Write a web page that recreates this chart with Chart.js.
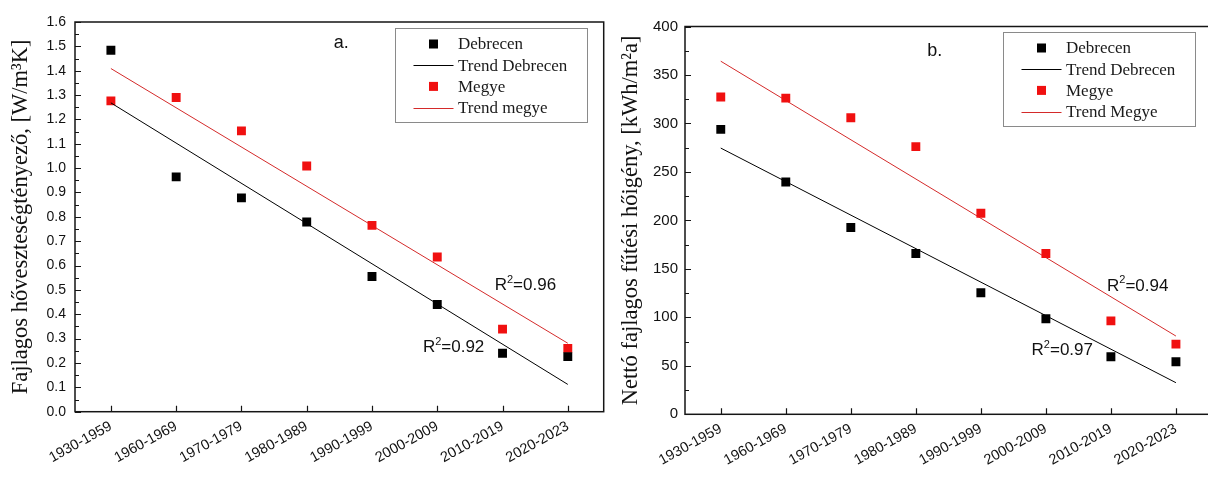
<!DOCTYPE html>
<html>
<head>
<meta charset="utf-8">
<script src="https://cdn.jsdelivr.net/npm/chart.js@4"></script>
<style>
  html, body { margin: 0; padding: 0; background: #fff; }
  body { width: 1208px; height: 480px; overflow: hidden; position: relative; }
  .panel { position: absolute; top: 0; height: 480px; }
  #panelA { left: 0; width: 610px; }
  #panelB { left: 606px; width: 612px; }
</style>
</head>
<body>
<div class="panel" id="panelA"><canvas id="chartA"></canvas></div>
<div class="panel" id="panelB"><canvas id="chartB"></canvas></div>
<script>
// --- data ---
const periods = ['1930-1959', '1960-1969', '1970-1979', '1980-1989', '1990-1999', '2000-2009', '2010-2019', '2020-2023'];

// a. specific heat loss coefficient [W/m3K]
const debrecenLoss = [1.484, 0.964, 0.878, 0.779, 0.555, 0.44, 0.24, 0.226];
const megyeLoss = [1.276, 1.29, 1.153, 1.009, 0.765, 0.635, 0.339, 0.26];
const trendDebrecenLoss = [1.268, 0.112];   // value at first / last period
const trendMegyeLoss = [1.409, 0.281];

// b. net specific heating demand [kWh/m2a]
const debrecenHeat = [293.9, 239.6, 192.6, 165.8, 125.3, 98.5, 59.3, 54.2];
const megyeHeat = [327.2, 326.1, 305.9, 276.1, 207.4, 165.8, 96.4, 72.4];
const trendDebrecenHeat = [274.6, 32.6];
const trendMegyeHeat = [364.2, 80.7];

const SANS = "'Liberation Sans', Arial, sans-serif";
const SERIF = "'Liberation Serif', 'Times New Roman', serif";
const RED = '#f01010';
const RED_LINE = '#d42a2a';

function pts(values) {
  return values.map((v, i) => ({ x: i, y: v }));
}
function trend(ends) {
  return [{ x: 0, y: ends[0] }, { x: periods.length - 1, y: ends[1] }];
}

// box round the plot, inward ticks on left and bottom axes
const framePlugin = {
  id: 'frame',
  afterDatasetsDraw(chart, args, opts) {
    const { ctx, chartArea: a, scales: { x, y } } = chart;
    ctx.save();
    ctx.strokeStyle = '#151515';
    ctx.lineWidth = 1.5;
    ctx.strokeRect(a.left, a.top, a.right - a.left, a.bottom - a.top);
    ctx.lineWidth = 1.2;
    ctx.beginPath();
    const n = Math.round((y.max - y.min) / opts.minorStep);
    for (let k = 0; k <= n; k++) {
      const v = y.min + k * opts.minorStep;
      const py = Math.round(y.getPixelForValue(v)) + 0.5;
      const len = k % 2 === 0 ? 6 : 4;
      ctx.moveTo(a.left, py);
      ctx.lineTo(a.left + len, py);
    }
    x.ticks.forEach(t => {
      const px = Math.round(x.getPixelForValue(t.value)) + 0.5;
      ctx.moveTo(px, a.bottom);
      ctx.lineTo(px, a.bottom - 6);
    });
    ctx.stroke();
    ctx.restore();
  }
};

// legend box in the upper right corner plus the text notes
const notesPlugin = {
  id: 'notes',
  afterDraw(chart, args, opts) {
    const { ctx, chartArea: a, scales: { x, y } } = chart;
    ctx.save();
    // notes
    ctx.fillStyle = '#111';
    ctx.textBaseline = 'middle';
    opts.notes.forEach(n => {
      ctx.font = n.size + 'px ' + SANS;
      ctx.textAlign = n.align || 'left';
      const px = x.getPixelForValue(n.x);
      const py = y.getPixelForValue(n.y);
      if (n.sup) {
        // R with superscript 2
        const w0 = ctx.measureText(n.text).width;
        ctx.fillText(n.text, px, py);
        ctx.font = Math.round(n.size * 0.62) + 'px ' + SANS;
        const w1 = ctx.measureText(n.sup).width;
        ctx.fillText(n.sup, px + w0, py - n.size * 0.32);
        ctx.font = n.size + 'px ' + SANS;
        ctx.fillText(n.rest, px + w0 + w1, py);
      } else {
        ctx.fillText(n.text, px, py);
      }
    });
    // legend
    const bw = 192, bh = 94;
    const bx = Math.round(a.right - 17 - bw) + 0.5;
    const by = Math.round(a.top + 5.5) + 0.5;
    ctx.fillStyle = '#fff';
    ctx.fillRect(bx, by, bw, bh);
    ctx.strokeStyle = '#8a8a8a';
    ctx.lineWidth = 1;
    ctx.strokeRect(bx, by, bw, bh);
    ctx.font = '17px ' + SERIF;
    ctx.textAlign = 'left';
    chart.data.datasets.forEach((ds, i) => {
      const ry = by + 15.5 + i * 21.2;
      if (ds.showLine) {
        ctx.strokeStyle = ds.borderColor;
        ctx.lineWidth = 1;
        ctx.beginPath();
        ctx.moveTo(bx + 18, Math.round(ry) + 0.5);
        ctx.lineTo(bx + 58, Math.round(ry) + 0.5);
        ctx.stroke();
      } else {
        ctx.fillStyle = ds.backgroundColor;
        ctx.fillRect(bx + 38 - 4.5, ry - 4.5, 9, 9);
      }
      ctx.fillStyle = '#1a1a1a';
      ctx.fillText(ds.label, bx + 62.5, ry + 1);
    });
    ctx.restore();
  }
};

function makeChart(id, cfg) {
  const pointDs = (label, values, color) => ({
    label, data: pts(values), backgroundColor: color, borderColor: color,
    pointStyle: 'rect', pointRadius: 6.3, pointBorderWidth: 0, showLine: false
  });
  const lineDs = (label, ends, color) => ({
    label, data: trend(ends), borderColor: color, backgroundColor: color,
    borderWidth: 1, pointRadius: 0, showLine: true
  });
  return new Chart(document.getElementById(id), {
    type: 'scatter',
    data: {
      datasets: [
        pointDs('Debrecen', cfg.debrecen, '#000'),
        lineDs('Trend Debrecen', cfg.trendDebrecen, '#000'),
        pointDs('Megye', cfg.megye, RED),
        lineDs(cfg.trendMegyeLabel, cfg.trendMegye, RED_LINE)
      ]
    },
    options: {
      responsive: true,
      maintainAspectRatio: false,
      animation: false,
      events: [],
      layout: { padding: { top: cfg.top, right: 0, left: 0, bottom: 0 } },
      scales: {
        x: {
          type: 'linear',
          min: -0.55,
          max: 7.55,
          afterBuildTicks: s => { s.ticks = periods.map((p, i) => ({ value: i })); },
          afterFit: s => { s.height = cfg.xHeight; },
          grid: { display: false, drawTicks: false },
          border: { display: false },
          ticks: {
            autoSkip: false,
            minRotation: 29,
            maxRotation: 29,
            padding: 6,
            color: '#111',
            font: { family: SANS, size: 14.5 },
            callback: v => periods[v]
          }
        },
        y: {
          min: 0,
          max: cfg.yMax,
          afterBuildTicks: s => { s.ticks = cfg.yTicks.map(v => ({ value: v })); },
          afterFit: s => { s.width = cfg.yWidth; },
          grid: { display: false, drawTicks: false },
          border: { display: false },
          ticks: {
            padding: cfg.yTickPad,
            color: '#111',
            font: { family: SANS, size: cfg.yTickSize },
            callback: cfg.yFormat
          },
          title: {
            display: true,
            text: cfg.yTitle,
            color: '#111',
            font: { family: SERIF, size: 22.5 },
            padding: { top: cfg.titleTop, bottom: 0 }
          }
        }
      },
      plugins: {
        legend: { display: false },
        tooltip: { enabled: false },
        frame: { minorStep: cfg.minorStep },
        notes: { notes: cfg.notes }
      }
    },
    plugins: [framePlugin, notesPlugin]
  });
}

const lossTicks = [0, 0.1, 0.2, 0.3, 0.4, 0.5, 0.6, 0.7, 0.8, 0.9, 1.0, 1.1, 1.2, 1.3, 1.4, 1.5, 1.6];
const heatTicks = [0, 50, 100, 150, 200, 250, 300, 350, 400];

makeChart('chartA', {
  debrecen: debrecenLoss, megye: megyeLoss,
  trendDebrecen: trendDebrecenLoss, trendMegye: trendMegyeLoss,
  trendMegyeLabel: 'Trend megye',
  yMax: 1.6, yTicks: lossTicks, minorStep: 0.05,
  yFormat: v => v.toFixed(1), yTickSize: 14, yTickPad: 9,
  yTitle: 'Fajlagos hőveszteségtényező, [W/m³K]',
  top: 22, yWidth: 75, xHeight: 68.3, titleTop: 8,
  notes: [
    { text: 'a.', x: 3.53, y: 1.514, size: 18, align: 'center' },
    { text: 'R', sup: '2', rest: '=0.96', x: 5.88, y: 0.517, size: 17 },
    { text: 'R', sup: '2', rest: '=0.92', x: 4.78, y: 0.263, size: 17 }
  ]
});

makeChart('chartB', {
  debrecen: debrecenHeat, megye: megyeHeat,
  trendDebrecen: trendDebrecenHeat, trendMegye: trendMegyeHeat,
  trendMegyeLabel: 'Trend Megye',
  yMax: 400, yTicks: heatTicks, minorStep: 25,
  yFormat: v => String(v), yTickSize: 15, yTickPad: 7,
  yTitle: 'Nettó fajlagos fűtési hőigény, [kWh/m²a]',
  top: 26.5, yWidth: 79, xHeight: 65.7, titleTop: 12,
  notes: [
    { text: 'b.', x: 3.29, y: 374.5, size: 18, align: 'center' },
    { text: 'R', sup: '2', rest: '=0.94', x: 5.94, y: 132.5, size: 17 },
    { text: 'R', sup: '2', rest: '=0.97', x: 4.78, y: 66.2, size: 17 }
  ]
});
</script>
</body>
</html>
